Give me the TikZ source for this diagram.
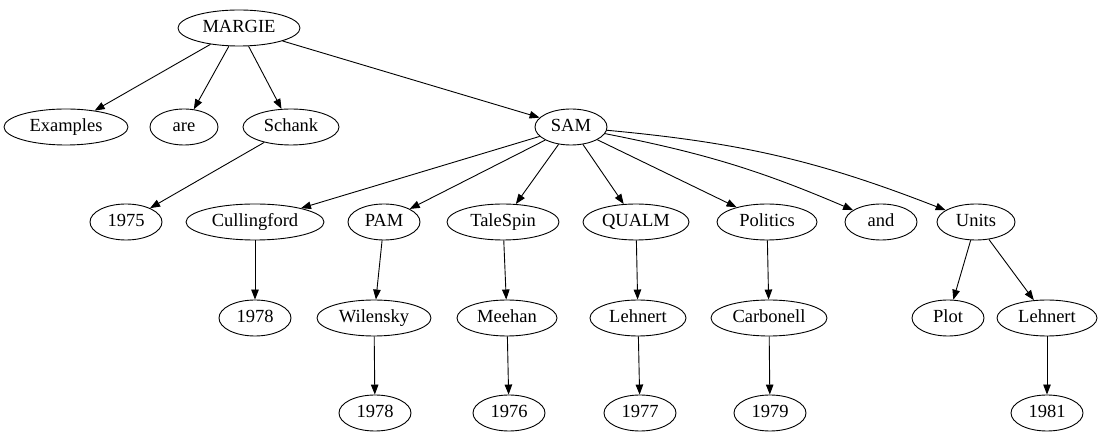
\documentclass[tikz,border=0pt]{standalone}
\usepackage{fontspec}
\setmainfont{Liberation Serif}
\usetikzlibrary{shapes.geometric,arrows.meta}
\begin{document}
\begin{tikzpicture}[x=1pt,y=-1pt,
  nd/.style={ellipse,draw,line width=0.9pt,minimum height=36pt,inner sep=0pt,text height=12.5pt,text depth=3.5pt,font=\fontsize{18.5}{20}\selectfont},
  ed/.style={draw,line width=0.9pt,-{Triangle[length=10pt,width=7.5pt]}}]
\useasboundingbox (0,0) rectangle (1101,443);
\node[nd,minimum width=122pt] (margie) at (239,28) {MARGIE};
\node[nd,minimum width=124pt] (examples) at (66,127) {Examples};
\node[nd,minimum width=68pt] (are) at (184,127) {are};
\node[nd,minimum width=96pt] (schank) at (291,127) {Schank};
\node[nd,minimum width=72pt] (sam) at (571,127) {SAM};
\node[nd,minimum width=72pt] (y1975) at (126,222) {1975};
\node[nd,minimum width=138pt] (cull) at (255,222) {Cullingford};
\node[nd,minimum width=72pt] (pam) at (384,222) {PAM};
\node[nd,minimum width=112pt] (tale) at (503,222) {TaleSpin};
\node[nd,minimum width=106pt] (qualm) at (636,222) {QUALM};
\node[nd,minimum width=100pt] (pol) at (767,222) {Politics};
\node[nd,minimum width=72pt] (and) at (881,222) {and};
\node[nd,minimum width=78pt] (units) at (976,222) {Units};
\node[nd,minimum width=72pt] (c1978) at (255,318) {1978};
\node[nd,minimum width=114pt] (wil) at (374,318) {Wilensky};
\node[nd,minimum width=100pt] (mee) at (507,318) {Meehan};
\node[nd,minimum width=96pt] (leh) at (638,318) {Lehnert};
\node[nd,minimum width=116pt] (carb) at (769,318) {Carbonell};
\node[nd,minimum width=72pt] (plot) at (948,318) {Plot};
\node[nd,minimum width=100pt] (leh2) at (1047,318) {Lehnert};
\node[nd,minimum width=72pt] (w1978) at (375,413) {1978};
\node[nd,minimum width=72pt] (y1976) at (509,413) {1976};
\node[nd,minimum width=72pt] (y1977) at (640,413) {1977};
\node[nd,minimum width=72pt] (y1979) at (770,413) {1979};
\node[nd,minimum width=72pt] (y1981) at (1047,413) {1981};
\path[ed] (margie) -- (examples);
\path[ed] (margie) -- (are);
\path[ed] (margie) -- (schank);
\path[ed] (margie) -- (sam);
\path[ed] (schank) -- (y1975);
\path[ed] (sam) -- (cull);
\path[ed] (sam) -- (pam);
\path[ed] (sam) -- (tale);
\path[ed] (sam) -- (qualm);
\path[ed] (sam) -- (pol);
\path[ed] (sam) to[bend left=6] (and);
\path[ed] (sam) to[bend left=8] (units);
\path[ed] (cull) -- (c1978);
\path[ed] (pam) -- (wil);
\path[ed] (tale) -- (mee);
\path[ed] (qualm) -- (leh);
\path[ed] (pol) -- (carb);
\path[ed] (units) -- (plot);
\path[ed] (units) -- (leh2);
\path[ed] (wil) -- (w1978);
\path[ed] (mee) -- (y1976);
\path[ed] (leh) -- (y1977);
\path[ed] (carb) -- (y1979);
\path[ed] (leh2) -- (y1981);
\end{tikzpicture}
\end{document}
